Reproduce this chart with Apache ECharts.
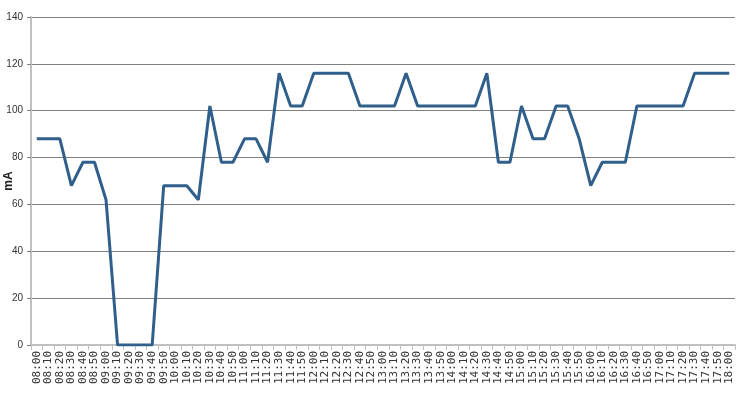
<!DOCTYPE html>
<html>
<head>
<meta charset="utf-8">
<script src="https://cdn.jsdelivr.net/npm/echarts@6/dist/echarts.min.js"></script>
<style>
html, body { margin: 0; padding: 0; background: #fff; }
#main { width: 747px; height: 400px; }
</style>
</head>
<body>
<div id="main"></div>
<script>
var times = ['08:00', '08:10', '08:20', '08:30', '08:40', '08:50', '09:00', '09:10', '09:20', '09:30',
    '09:40', '09:50', '10:00', '10:10', '10:20', '10:30', '10:40', '10:50', '11:00', '11:10',
    '11:20', '11:30', '11:40', '11:50', '12:00', '12:10', '12:20', '12:30', '12:40', '12:50',
    '13:00', '13:10', '13:20', '13:30', '13:40', '13:50', '14:00', '14:10', '14:20', '14:30',
    '14:40', '14:50', '15:00', '15:10', '15:20', '15:30', '15:40', '15:50', '16:00', '16:10',
    '16:20', '16:30', '16:40', '16:50', '17:00', '17:10', '17:20', '17:30', '17:40', '17:50',
    '18:00'];
var current = [88, 88, 88, 68, 78, 78, 62, 0, 0, 0,
    0, 68, 68, 68, 62, 102, 78, 78, 88, 88,
    78, 116, 102, 102, 116, 116, 116, 116, 102, 102,
    102, 102, 116, 102, 102, 102, 102, 102, 102, 116,
    78, 78, 102, 88, 88, 102, 102, 88, 68, 78,
    78, 78, 102, 102, 102, 102, 102, 116, 116, 116,
    116];

var chartDom = document.getElementById('main');
var myChart = echarts.init(chartDom);
var option;

option = {
    animation: false,
    grid: {
        left: 31,
        right: 12,
        top: 17,
        bottom: 55,
        containLabel: false,
        outerBoundsMode: 'none'
    },
    xAxis: {
        type: 'category',
        data: times,
        boundaryGap: true,
        axisLine: {
            lineStyle: { color: '#c0c0c0', width: 2 }
        },
        axisTick: {
            show: true,
            length: 5,
            lineStyle: { color: '#c0c0c0' }
        },
        axisLabel: {
            interval: 0,
            rotate: 90,
            margin: 6,
            fontFamily: 'DejaVu Sans Mono',
            fontSize: 11,
            color: '#333'
        }
    },
    yAxis: {
        type: 'value',
        min: 0,
        max: 140,
        interval: 20,
        name: 'mA',
        nameLocation: 'middle',
        nameRotate: 90,
        nameGap: 16,
        nameMoveOverlap: false,
        nameTextStyle: {
            fontFamily: 'Liberation Sans',
            fontWeight: 'bold',
            fontSize: 12,
            color: '#222'
        },
        axisLine: {
            show: true,
            lineStyle: { color: '#c0c0c0', width: 2 }
        },
        axisTick: {
            show: true,
            length: 4,
            lineStyle: { color: '#808080' }
        },
        axisLabel: {
            margin: 8,
            fontFamily: 'Liberation Sans',
            fontSize: 10,
            color: '#333'
        },
        splitLine: {
            lineStyle: { color: '#808080', width: 1 }
        }
    },
    series: [
        {
            type: 'line',
            data: current,
            symbol: 'none',
            lineStyle: { color: '#2f5f8a', width: 3 }
        }
    ]
};

option && myChart.setOption(option);
</script>
</body>
</html>
